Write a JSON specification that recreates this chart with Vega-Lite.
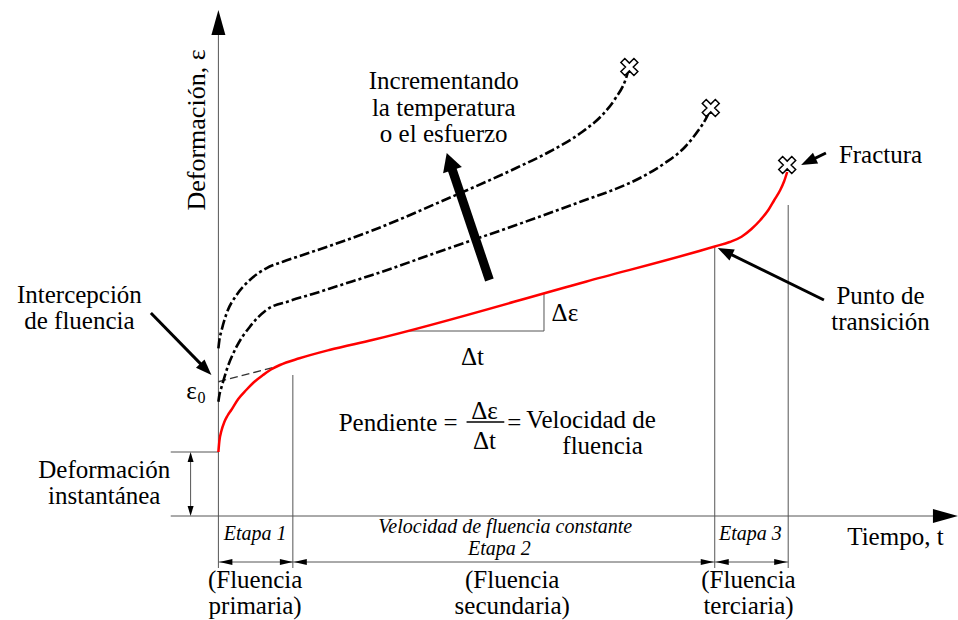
{
  "$schema": "https://vega.github.io/schema/vega-lite/v6.json",
  "width": 958,
  "height": 620,
  "autosize": {"type": "fit", "contains": "padding"},
  "padding": 0,
  "background": "white",
  "config": {"view": {"stroke": null}, "font": "Liberation Serif"},
  "datasets": {
    "thin": [
      {"t": 0, "e": -52, "t2": 0, "e2": 488},
      {"t": -48, "e": 0, "t2": 725, "e2": 0},
      {"t": -48, "e": 64, "t2": 0, "e2": 64},
      {"t": -28, "e": 60, "t2": -28, "e2": 4},
      {"t": 75, "e": 141, "t2": 75, "e2": -52},
      {"t": 500, "e": 270, "t2": 500, "e2": -52},
      {"t": 574, "e": 311, "t2": 574, "e2": -52},
      {"t": 0, "e": -46, "t2": 574, "e2": -46},
      {"t": 190, "e": 185, "t2": 328, "e2": 185},
      {"t": 328, "e": 223, "t2": 328, "e2": 185}
    ],
    "intercept": [{"t": 0, "e": 134.3, "t2": 57, "e2": 149}],
    "fracbar": [{"t": 250, "e": 94, "t2": 288, "e2": 94}],
    "curves": [
      {"c": "A", "t": 0, "e": 167.7}, {"c": "A", "t": 1, "e": 176}, {"c": "A", "t": 3.3, "e": 186},
      {"c": "A", "t": 8.3, "e": 202.7}, {"c": "A", "t": 18.3, "e": 221}, {"c": "A", "t": 31.7, "e": 236},
      {"c": "A", "t": 48.3, "e": 247.7}, {"c": "A", "t": 65, "e": 254.3}, {"c": "A", "t": 85, "e": 261},
      {"c": "A", "t": 111.7, "e": 270}, {"c": "A", "t": 155, "e": 285.5}, {"c": "A", "t": 230, "e": 317},
      {"c": "A", "t": 300, "e": 348}, {"c": "A", "t": 333, "e": 364}, {"c": "A", "t": 366.7, "e": 384.3},
      {"c": "A", "t": 386.7, "e": 401}, {"c": "A", "t": 400, "e": 417.7}, {"c": "A", "t": 410, "e": 436},
      {"c": "A", "t": 414, "e": 449},
      {"c": "B", "t": 0, "e": 114.3}, {"c": "B", "t": 1, "e": 121}, {"c": "B", "t": 3.3, "e": 129.3},
      {"c": "B", "t": 8.3, "e": 146}, {"c": "B", "t": 18.3, "e": 169.3}, {"c": "B", "t": 31.7, "e": 189.3},
      {"c": "B", "t": 48.3, "e": 206}, {"c": "B", "t": 71.7, "e": 215}, {"c": "B", "t": 95, "e": 222},
      {"c": "B", "t": 121.7, "e": 230.5}, {"c": "B", "t": 155, "e": 241}, {"c": "B", "t": 230, "e": 267},
      {"c": "B", "t": 300, "e": 291}, {"c": "B", "t": 333, "e": 302.7}, {"c": "B", "t": 366.7, "e": 315},
      {"c": "B", "t": 400, "e": 327}, {"c": "B", "t": 426.7, "e": 339}, {"c": "B", "t": 450, "e": 353},
      {"c": "B", "t": 470, "e": 369}, {"c": "B", "t": 483, "e": 385}, {"c": "B", "t": 492, "e": 399},
      {"c": "B", "t": 496, "e": 408},
      {"c": "R", "t": 0, "e": 64}, {"c": "R", "t": 1, "e": 75}, {"c": "R", "t": 3, "e": 85},
      {"c": "R", "t": 6, "e": 94}, {"c": "R", "t": 9, "e": 100}, {"c": "R", "t": 13, "e": 106},
      {"c": "R", "t": 20, "e": 117}, {"c": "R", "t": 28, "e": 126}, {"c": "R", "t": 36, "e": 134},
      {"c": "R", "t": 45, "e": 141}, {"c": "R", "t": 53, "e": 146.5}, {"c": "R", "t": 62, "e": 151},
      {"c": "R", "t": 81.7, "e": 157.7}, {"c": "R", "t": 111.7, "e": 166}, {"c": "R", "t": 155, "e": 176},
      {"c": "R", "t": 370, "e": 234.3}, {"c": "R", "t": 500, "e": 269.5}, {"c": "R", "t": 515, "e": 274},
      {"c": "R", "t": 527, "e": 279.3}, {"c": "R", "t": 537, "e": 287}, {"c": "R", "t": 546, "e": 296},
      {"c": "R", "t": 554, "e": 306}, {"c": "R", "t": 560, "e": 316}, {"c": "R", "t": 566, "e": 326},
      {"c": "R", "t": 570, "e": 335}, {"c": "R", "t": 573, "e": 344}
    ],
    "crosses": [{"t": 414, "e": 449}, {"t": 496, "e": 408}, {"t": 573, "e": 351}],
    "shafts": [
      {"t": -68, "e": 203, "t2": -15.4, "e2": 149.6},
      {"t": 610, "e": 216, "t2": 513.8, "e2": 262.8},
      {"t": 612, "e": 363, "t2": 597.8, "e2": 356.2}
    ],
    "bigshaft": [{"t": 273, "e": 236, "t2": 235, "e2": 348}],
    "heads": [
      {"k": "axis", "t": 0, "e": 506, "angle": 0},
      {"k": "axis", "t": 745, "e": 0, "angle": 90},
      {"k": "small", "t": -28, "e": 64, "angle": 0},
      {"k": "small", "t": -28, "e": 0, "angle": 180},
      {"k": "dim", "t": 1, "e": -46, "angle": 270},
      {"k": "dim", "t": 75, "e": -46, "angle": 90},
      {"k": "dim", "t": 76, "e": -46, "angle": 270},
      {"k": "dim", "t": 499, "e": -46, "angle": 90},
      {"k": "dim", "t": 501, "e": -46, "angle": 270},
      {"k": "dim", "t": 573, "e": -46, "angle": 90},
      {"k": "callout", "t": -7, "e": 141, "angle": 135.5},
      {"k": "callout", "t": 503, "e": 268, "angle": 295.9},
      {"k": "callout", "t": 587, "e": 351, "angle": 244.4},
      {"k": "big", "t": 230, "e": 363, "angle": 341.3}
    ],
    "texts": [
      {"g": "main", "t": 227, "e": 435, "s": "Incrementando"},
      {"g": "main", "t": 227, "e": 408, "s": "la temperatura"},
      {"g": "main", "t": 227, "e": 382, "s": "o el esfuerzo"},
      {"g": "main", "t": -140, "e": 221, "s": "Intercepción"},
      {"g": "main", "t": -140, "e": 195, "s": "de fluencia"},
      {"g": "main", "t": -115, "e": 46, "s": "Deformación"},
      {"g": "main", "t": -115, "e": 20, "s": "instantánea"},
      {"g": "main", "t": 667, "e": 220, "s": "Punto de"},
      {"g": "main", "t": 667, "e": 194, "s": "transición"},
      {"g": "main", "t": 667, "e": 361, "s": "Fractura"},
      {"g": "main", "t": 349, "e": 203, "s": "Δε"},
      {"g": "main", "t": 256, "e": 159, "s": "Δt"},
      {"g": "main", "t": 268, "e": 105, "s": "Δε"},
      {"g": "main", "t": 268, "e": 75, "s": "Δt"},
      {"g": "main", "t": 298, "e": 93, "s": "="},
      {"g": "main", "t": 387, "e": 70, "s": "fluencia"},
      {"g": "main", "t": 682, "e": -21, "s": "Tiempo, t"},
      {"g": "main", "t": 37, "e": -64, "s": "(Fluencia"},
      {"g": "main", "t": 37, "e": -90, "s": "primaria)"},
      {"g": "main", "t": 296, "e": -64, "s": "(Fluencia"},
      {"g": "main", "t": 296, "e": -90, "s": "secundaria)"},
      {"g": "main", "t": 534, "e": -64, "s": "(Fluencia"},
      {"g": "main", "t": 534, "e": -90, "s": "terciaria)"},
      {"g": "main", "t": -27, "e": 125, "s": "ε"},
      {"g": "right", "t": 241, "e": 93, "s": "Pendiente ="},
      {"g": "left", "t": 310, "e": 96, "s": "Velocidad de"},
      {"g": "ital", "t": 37, "e": -18, "s": "Etapa 1"},
      {"g": "ital", "t": 289, "e": -11, "s": "Velocidad de fluencia constante"},
      {"g": "ital", "t": 283, "e": -33, "s": "Etapa 2"},
      {"g": "ital", "t": 536, "e": -18, "s": "Etapa 3"},
      {"g": "sub", "t": -17, "e": 118, "s": "0"},
      {"g": "vert", "t": -22, "e": 386, "s": "Deformación, ε"}
    ]
  },
  "encoding": {
    "x": {"field": "t", "type": "quantitative", "scale": {"domain": [-220, 738], "nice": false, "zero": false}, "axis": null},
    "y": {"field": "e", "type": "quantitative", "scale": {"domain": [-104, 516], "nice": false, "zero": false}, "axis": null}
  },
  "layer": [
    {
      "data": {"name": "thin"},
      "mark": {"type": "rule", "color": "#555555", "strokeWidth": 1},
      "encoding": {"x2": {"field": "t2"}, "y2": {"field": "e2"}}
    },
    {
      "data": {"name": "intercept"},
      "mark": {"type": "rule", "color": "#333333", "strokeWidth": 1.4, "strokeDash": [8, 4]},
      "encoding": {"x2": {"field": "t2"}, "y2": {"field": "e2"}}
    },
    {
      "data": {"name": "curves"},
      "transform": [{"filter": "datum.c !== 'R'"}],
      "mark": {"type": "line", "color": "#000000", "strokeWidth": 2.6, "strokeDash": [10, 3, 3, 3], "interpolate": "monotone"},
      "encoding": {"detail": {"field": "c", "type": "nominal"}}
    },
    {
      "data": {"name": "curves"},
      "transform": [{"filter": "datum.c === 'R'"}],
      "mark": {"type": "line", "color": "#ff0000", "strokeWidth": 2.5, "interpolate": "monotone"},
      "encoding": {}
    },
    {
      "data": {"name": "crosses"},
      "mark": {"type": "point", "filled": true, "shape": "M-0.3,-1L0.3,-1L0.3,-0.3L1,-0.3L1,0.3L0.3,0.3L0.3,1L-0.3,1L-0.3,0.3L-1,0.3L-1,-0.3L-0.3,-0.3Z", "angle": 45, "size": 340, "fill": "white", "stroke": "black", "strokeWidth": 1.5, "opacity": 1, "fillOpacity": 1}
    },
    {
      "data": {"name": "shafts"},
      "mark": {"type": "rule", "color": "#000000", "strokeWidth": 3},
      "encoding": {"x2": {"field": "t2"}, "y2": {"field": "e2"}}
    },
    {
      "data": {"name": "bigshaft"},
      "mark": {"type": "rule", "color": "#000000", "strokeWidth": 9},
      "encoding": {"x2": {"field": "t2"}, "y2": {"field": "e2"}}
    },
    {
      "data": {"name": "fracbar"},
      "mark": {"type": "rule", "color": "#000000", "strokeWidth": 1.3},
      "encoding": {"x2": {"field": "t2"}, "y2": {"field": "e2"}}
    },
    {
      "data": {"name": "heads"},
      "transform": [{"filter": "datum.k === 'axis'"}],
      "mark": {"type": "point", "filled": true, "shape": "M0,0L0.28,1L-0.28,1Z", "size": 2500, "color": "#000000", "opacity": 1},
      "encoding": {"angle": {"field": "angle", "type": "quantitative", "scale": null}}
    },
    {
      "data": {"name": "heads"},
      "transform": [{"filter": "datum.k === 'small'"}],
      "mark": {"type": "point", "filled": true, "shape": "M0,0L0.3,1L-0.3,1Z", "size": 400, "color": "#000000", "opacity": 1},
      "encoding": {"angle": {"field": "angle", "type": "quantitative", "scale": null}}
    },
    {
      "data": {"name": "heads"},
      "transform": [{"filter": "datum.k === 'dim'"}],
      "mark": {"type": "point", "filled": true, "shape": "M0,0L0.23,1L-0.23,1Z", "size": 676, "color": "#000000", "opacity": 1},
      "encoding": {"angle": {"field": "angle", "type": "quantitative", "scale": null}}
    },
    {
      "data": {"name": "heads"},
      "transform": [{"filter": "datum.k === 'callout'"}],
      "mark": {"type": "point", "filled": true, "shape": "M0,0L0.375,1L-0.375,1Z", "size": 1024, "color": "#000000", "opacity": 1},
      "encoding": {"angle": {"field": "angle", "type": "quantitative", "scale": null}}
    },
    {
      "data": {"name": "heads"},
      "transform": [{"filter": "datum.k === 'big'"}],
      "mark": {"type": "point", "filled": true, "shape": "M0,0L0.55,1L-0.55,1Z", "size": 1296, "color": "#000000", "opacity": 1},
      "encoding": {"angle": {"field": "angle", "type": "quantitative", "scale": null}}
    },
    {
      "data": {"name": "texts"},
      "transform": [{"filter": "datum.g === 'main'"}],
      "mark": {"type": "text", "font": "Liberation Serif", "fontSize": 25, "align": "center"},
      "encoding": {"text": {"field": "s"}}
    },
    {
      "data": {"name": "texts"},
      "transform": [{"filter": "datum.g === 'right'"}],
      "mark": {"type": "text", "font": "Liberation Serif", "fontSize": 25, "align": "right"},
      "encoding": {"text": {"field": "s"}}
    },
    {
      "data": {"name": "texts"},
      "transform": [{"filter": "datum.g === 'left'"}],
      "mark": {"type": "text", "font": "Liberation Serif", "fontSize": 25, "align": "left"},
      "encoding": {"text": {"field": "s"}}
    },
    {
      "data": {"name": "texts"},
      "transform": [{"filter": "datum.g === 'ital'"}],
      "mark": {"type": "text", "font": "Liberation Serif", "fontSize": 20, "fontStyle": "italic", "align": "center"},
      "encoding": {"text": {"field": "s"}}
    },
    {
      "data": {"name": "texts"},
      "transform": [{"filter": "datum.g === 'sub'"}],
      "mark": {"type": "text", "font": "Liberation Serif", "fontSize": 16, "align": "center"},
      "encoding": {"text": {"field": "s"}}
    },
    {
      "data": {"name": "texts"},
      "transform": [{"filter": "datum.g === 'vert'"}],
      "mark": {"type": "text", "font": "Liberation Serif", "fontSize": 26, "align": "center", "angle": 270},
      "encoding": {"text": {"field": "s"}}
    }
  ]
}
